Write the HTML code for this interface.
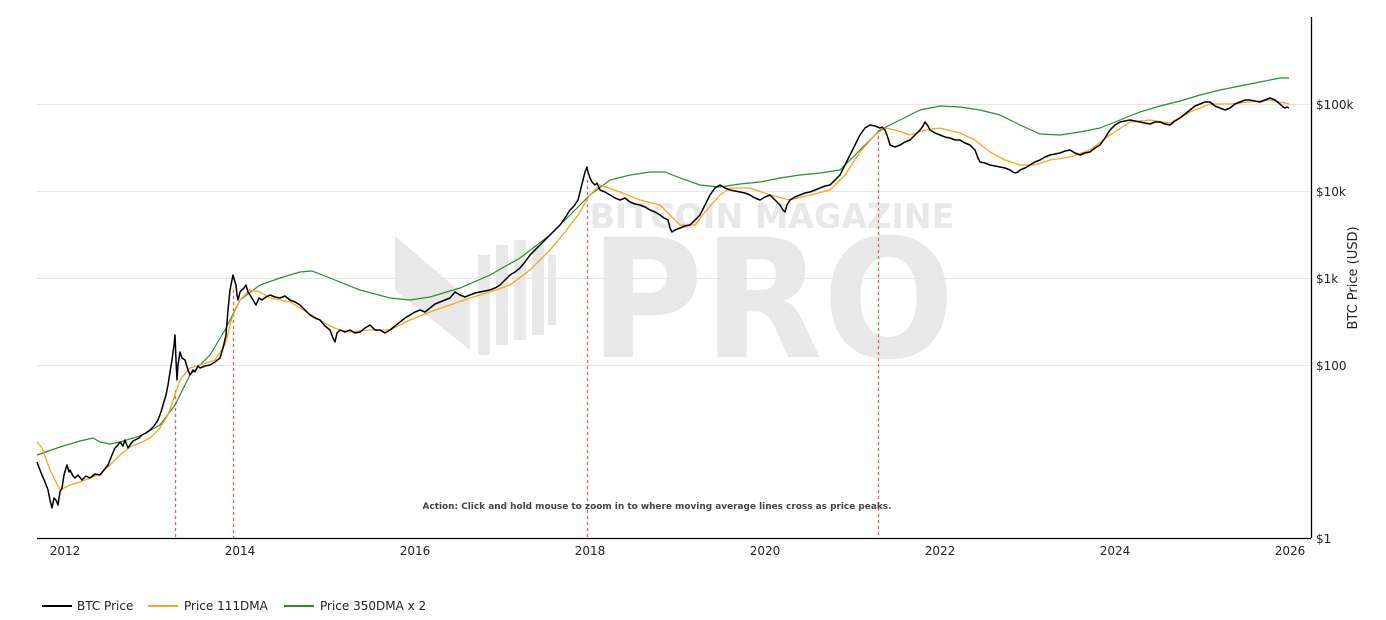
<!DOCTYPE html>
<html><head><meta charset="utf-8"><style>
html,body{margin:0;padding:0;background:#fff;}
svg{display:block;font-family:"DejaVu Sans","Liberation Sans",sans-serif;}
</style></head><body>
<svg width="1386" height="620" viewBox="0 0 1386 620" xmlns="http://www.w3.org/2000/svg">
<rect width="1386" height="620" fill="#fff"/>
<!-- watermark -->
<g fill="#e8e8e8">
<text x="772" y="228" font-size="34" font-weight="bold" text-anchor="middle" textLength="365" lengthAdjust="spacingAndGlyphs">BITCOIN MAGAZINE</text>
<text x="772" y="357" font-size="165" font-weight="bold" text-anchor="middle" textLength="365" lengthAdjust="spacingAndGlyphs">PRO</text>
<polygon points="395,236 470,300 470,350 395,290"/>
<rect x="478" y="255" width="12" height="100"/>
<rect x="496" y="245" width="12" height="100"/>
<rect x="514" y="240" width="12" height="100"/>
<rect x="532" y="245" width="12" height="90"/>
<rect x="548" y="255" width="8" height="70"/>
</g>
<!-- grid -->
<g stroke="#e6e6e6" stroke-width="1">
<line x1="37" y1="104.5" x2="1311" y2="104.5"/>
<line x1="37" y1="191.5" x2="1311" y2="191.5"/>
<line x1="37" y1="278.5" x2="1311" y2="278.5"/>
<line x1="37" y1="365.5" x2="1311" y2="365.5"/>
</g>
<!-- axes -->
<line x1="37" y1="538.5" x2="1311" y2="538.5" stroke="#000" stroke-width="1.3"/>
<line x1="1311.5" y1="17" x2="1311.5" y2="538" stroke="#000" stroke-width="1.3"/>
<g font-size="12" fill="#222">
<text x="1316" y="109">$100k</text>
<text x="1316" y="196">$10k</text>
<text x="1316" y="283">$1k</text>
<text x="1316" y="370">$100</text>
<text x="1316" y="543">$1</text>
</g>
<text transform="translate(1357,278) rotate(-90)" font-size="13" fill="#222" text-anchor="middle">BTC Price (USD)</text>
<g font-size="12" fill="#222" text-anchor="middle">
<text x="65" y="555">2012</text><text x="240" y="555">2014</text><text x="415" y="555">2016</text>
<text x="590" y="555">2018</text><text x="765" y="555">2020</text><text x="940" y="555">2022</text>
<text x="1115" y="555">2024</text><text x="1290" y="555">2026</text>
</g>
<!-- red dashed -->
<g stroke="#e06060" stroke-width="1.3" stroke-dasharray="3,3">
<line x1="175.5" y1="390" x2="175.5" y2="538"/>
<line x1="233.5" y1="290" x2="233.5" y2="538"/>
<line x1="587.5" y1="180" x2="587.5" y2="538"/>
<line x1="878.5" y1="130" x2="878.5" y2="538"/>
</g>
<!-- green -->
<polyline fill="none" stroke="#2e8b2e" stroke-width="1.2" points="37,455 60,447 80,441 93,438 100,442 110,444 120,442 140,436 160,425 175,405 190,375 210,355 225,330 240,300 260,285 280,278 300,272 312,271 330,278 360,290 390,298 410,300 430,297 460,288 490,275 520,258 550,235 570,215 590,195 610,180 630,175 650,172 665,172 680,178 700,185 720,187 740,184 760,182 780,178 800,175 820,173 840,170 860,150 880,130 900,120 920,110 940,106 960,107 980,110 1000,115 1020,125 1040,134 1060,135 1080,132 1100,128 1120,120 1140,112 1160,106 1180,101 1200,95 1220,90 1240,86 1260,82 1280,78 1289,78"/>
<!-- orange -->
<polyline fill="none" stroke="#f5a623" stroke-width="1.3" points="37,442 42,448 50,470 60,490 70,485 80,482 90,478 100,474 110,465 120,455 130,447 140,443 150,438 160,428 168,415 175,395 180,380 190,368 200,365 215,360 225,345 232,318 240,300 250,290 260,292 270,298 280,300 290,302 300,308 310,314 320,320 330,326 340,330 350,332 370,330 390,330 410,320 430,312 450,305 470,298 490,292 510,285 530,270 550,250 565,232 578,215 590,195 600,185 620,192 640,200 660,205 670,215 680,225 695,225 705,212 720,195 730,188 750,188 770,195 790,200 810,195 830,190 845,175 860,152 875,135 885,128 895,130 910,135 925,130 940,128 960,133 975,140 990,152 1005,160 1020,165 1035,165 1050,160 1070,157 1090,150 1110,135 1130,122 1150,120 1170,123 1190,112 1210,104 1230,104 1250,102 1270,100 1289,104"/>
<!-- price -->
<polyline fill="none" stroke="#000" stroke-width="1.5" stroke-linejoin="round" points="37,462 40,470 42,475 45,482 48,490 50,500 52,508 54,498 56,500 58,505 60,492 62,488 64,475 66,468 67,465 69,472 70,470 73,476 75,478 78,475 82,480 86,476 90,478 95,474 100,475 104,470 108,465 112,455 115,448 118,445 120,442 123,446 125,440 128,448 130,445 133,441 135,440 139,438 142,435 146,433 150,430 154,426 158,420 161,412 163,405 166,395 168,385 170,372 172,360 174,345 175,335 176,360 177,380 178,365 180,352 182,358 185,360 188,370 190,375 193,370 195,372 198,366 200,368 205,366 210,365 215,362 220,358 223,348 226,335 228,310 230,290 232,280 233,275 235,282 236,285 237,295 238,300 240,292 242,290 244,288 246,285 248,292 250,295 253,300 256,305 259,298 262,300 266,297 270,295 275,297 280,298 285,296 290,300 295,302 300,305 305,310 310,315 315,318 320,320 325,326 330,330 333,338 335,342 337,333 340,330 345,332 350,330 355,333 360,332 365,328 370,325 375,330 380,330 385,333 390,330 395,326 400,322 405,318 410,315 415,312 420,310 425,312 430,308 435,304 440,302 445,300 450,298 455,292 460,295 465,297 470,295 475,293 480,292 485,291 490,290 495,288 500,285 505,280 510,275 515,272 520,268 525,262 530,255 535,250 540,245 545,240 550,235 555,230 560,225 565,218 570,210 574,206 578,200 580,192 583,180 585,172 587,167 588,172 590,178 592,182 595,185 597,183 600,190 605,192 610,195 615,198 620,200 625,198 630,202 635,204 640,205 645,207 650,210 655,212 660,215 664,218 668,220 670,228 672,232 675,230 680,228 685,226 690,225 695,220 700,215 705,205 710,195 715,188 720,185 725,188 730,190 735,191 740,192 745,193 750,195 755,198 760,200 765,197 770,195 775,200 780,205 783,210 785,212 787,205 790,200 795,197 800,195 805,193 810,192 815,190 820,188 825,186 830,185 835,180 840,175 845,165 850,155 855,145 860,135 865,128 870,125 875,126 880,128 882,127 885,130 888,138 890,145 895,147 900,145 905,142 910,140 915,135 920,130 923,126 925,122 928,126 930,130 935,133 940,135 945,137 950,138 955,140 960,140 965,143 970,145 973,148 975,150 978,158 980,162 985,163 990,165 995,166 1000,167 1005,168 1010,170 1013,172 1015,173 1018,172 1020,170 1025,168 1030,165 1035,162 1040,160 1045,157 1050,155 1055,154 1060,153 1065,151 1070,150 1075,153 1080,155 1085,153 1090,152 1095,148 1100,145 1105,138 1110,130 1115,125 1120,122 1125,121 1130,120 1135,121 1140,122 1145,123 1150,124 1155,122 1160,122 1165,124 1170,125 1175,121 1180,118 1185,114 1190,110 1195,106 1200,104 1205,102 1210,102 1215,106 1220,108 1225,110 1230,108 1235,104 1240,102 1245,100 1250,100 1255,101 1260,102 1265,100 1270,98 1275,100 1280,104 1283,107 1285,108 1287,107 1289,108"/>
<text x="657" y="509" font-size="9" font-weight="bold" fill="#444" text-anchor="middle" textLength="469" lengthAdjust="spacingAndGlyphs">Action: Click and hold mouse to zoom in to where moving average lines cross as price peaks.</text>
<!-- legend -->
<g font-size="12" fill="#222">
<line x1="42" y1="606" x2="72" y2="606" stroke="#000" stroke-width="2"/>
<text x="77" y="610">BTC Price</text>
<line x1="148" y1="606" x2="178" y2="606" stroke="#f5a623" stroke-width="2"/>
<text x="184" y="610">Price 111DMA</text>
<line x1="284" y1="606" x2="314" y2="606" stroke="#2e8b2e" stroke-width="2"/>
<text x="320" y="610">Price 350DMA x 2</text>
</g>
</svg>
</body></html>
